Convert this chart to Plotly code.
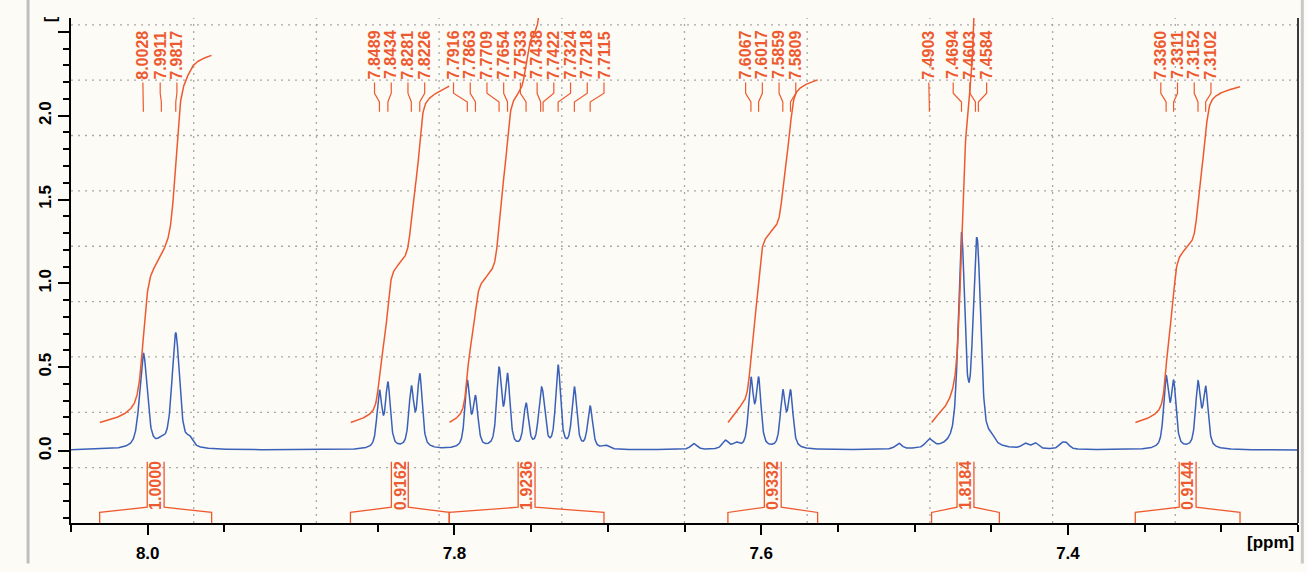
import numpy as np
import plotly.graph_objects as go

# ---------------- data ----------------
# labelled peaks (ppm), their heights and line widths (ppm)
peak_ppm = [8.0028, 7.9911, 7.9817,
            7.8489, 7.8434, 7.8281, 7.8226, 7.7916, 7.7863, 7.7709, 7.7654,
            7.7533, 7.7438, 7.7422, 7.7324, 7.7218, 7.7115,
            7.6067, 7.6017, 7.5859, 7.5809,
            7.4903, 7.4694, 7.4603, 7.4584,
            7.3360, 7.3311, 7.3152, 7.3102]
peak_height = [0.57, 0.03, 0.69,
               0.33, 0.38, 0.35, 0.43, 0.39, 0.29, 0.46, 0.42,
               0.26, 0.23, 0.18, 0.49, 0.36, 0.25,
               0.40, 0.40, 0.33, 0.33,
               0.05, 1.25, 0.70, 0.68,
               0.41, 0.38, 0.38, 0.35]
peak_width = [0.0058, 0.005, 0.0058,
              0.0038, 0.0038, 0.0038, 0.0038, 0.0038, 0.0038, 0.0038, 0.0038,
              0.0038, 0.0038, 0.0038, 0.0038, 0.0038, 0.0038,
              0.0038, 0.0038, 0.0038, 0.0038,
              0.006, 0.005, 0.005, 0.005,
              0.0038, 0.0038, 0.0038, 0.0038]

# small unlabelled signals
minor_ppm = [7.9727, 7.7014, 7.6439, 7.6233, 7.6165, 7.5104, 7.4499,
             7.4280, 7.4214, 7.4040, 7.4010]
minor_height = [0.045, 0.02, 0.035, 0.05, 0.03, 0.035, 0.04,
                0.03, 0.035, 0.03, 0.03]
minor_width = [0.005] * len(minor_ppm)

baseline = 0.005

# integral regions (ppm) and their values
integral_start = [8.0313, 7.8678, 7.8034, 7.6217, 7.4889, 7.3561]
integral_end = [7.9583, 7.8034, 7.7025, 7.5632, 7.4447, 7.2878]
integral_value = [1.0000, 0.9162, 1.9236, 0.9332, 1.8184, 0.9144]

# axis ticks
x_tickvals = [8.0, 7.8, 7.6, 7.4]
x_ticktext = ["8.0", "7.8", "7.6", "7.4"]
y_tickvals = [0.0, 0.5, 1.0, 1.5, 2.0, 2.5]
y_ticktext = ["0.0", "0.5", "1.0", "1.5", "2.0", ""]

# ---------------- styles ----------------
BLUE = "#3A60B8"
ORANGE = "#EE5A2F"
BG = "#FCFBF6"
FONT = "Liberation Sans"
X_RANGE = [8.05, 7.25]
Y_RANGE = [-0.43, 2.583]

# ---------------- spectrum ----------------
ppm = np.linspace(X_RANGE[0], X_RANGE[1], 4001)


def pseudo_voigt(x, c, h, w, eta=0.6):
    dx = (x - c) / w
    lor = 1.0 / (1.0 + 4.0 * dx * dx)
    gau = np.exp(-4.0 * np.log(2.0) * dx * dx)
    return h * (eta * lor + (1 - eta) * gau)


spec = np.full_like(ppm, baseline)
for c, h, w in zip(peak_ppm + minor_ppm, peak_height + minor_height,
                   peak_width + minor_width):
    spec += pseudo_voigt(ppm, c, h, w)

fig = go.Figure()
fig.add_trace(go.Scatter(x=ppm, y=spec, mode="lines",
                         line=dict(color=BLUE, width=1.5),
                         hoverinfo="skip", showlegend=False))

# ---------------- integral curves ----------------
INT_SCALE = 2.19
INT_OFFSET = 0.17
for s, e, v in zip(integral_start, integral_end, integral_value):
    m = (ppm <= s) & (ppm >= e)
    seg_x = ppm[m]
    cum = np.cumsum(spec[m])
    cum = (cum - cum[0]) / (cum[-1] - cum[0])
    seg_y = INT_OFFSET + INT_SCALE * v * cum
    fig.add_trace(go.Scatter(x=seg_x, y=seg_y, mode="lines",
                             line=dict(color=ORANGE, width=1.5),
                             hoverinfo="skip", showlegend=False))

# integral brackets below the baseline
bx, by = [], []
half_box = 0.0055
yb, y1, y2, y3 = Y_RANGE[0], -0.367, -0.336, -0.064
for s, e in zip(integral_start, integral_end):
    mid = (s + e) / 2
    bx += [s, s, mid + half_box, mid + half_box, None,
           mid - half_box, mid - half_box, e, e, None]
    by += [yb, y1, y2, y3, None, y3, y2, y1, yb, None]
fig.add_trace(go.Scatter(x=bx, y=by, mode="lines",
                         line=dict(color=ORANGE, width=1.3),
                         hoverinfo="skip", showlegend=False, cliponaxis=False))

LABEL_FONT = dict(family=FONT, size=16, color=ORANGE, weight="bold")
annotations = []
for s, e, v in zip(integral_start, integral_end, integral_value):
    annotations.append(dict(x=(s + e) / 2, y=-0.205, xref="x", yref="y",
                            text=f"{v:.4f}", textangle=-90, showarrow=False,
                            xanchor="center", yanchor="middle",
                            font=LABEL_FONT))

# ---------------- peak labels ----------------
gap = 0.0109
u = [-p for p in peak_ppm]
fw = []
for i, val in enumerate(u):
    fw.append(val if i == 0 else max(val, fw[-1] + gap))
bwd = [0.0] * len(u)
bwd[-1] = u[-1]
for i in range(len(u) - 2, -1, -1):
    bwd[i] = min(u[i], bwd[i + 1] - gap)
slots = [-(a + b) / 2 for a, b in zip(fw, bwd)]

cx, cy = [], []
for p, sl in zip(peak_ppm, slots):
    cx += [sl, sl, p, p, None]
    cy += [2.198, 2.134, 2.082, 2.023, None]
fig.add_trace(go.Scatter(x=cx, y=cy, mode="lines",
                         line=dict(color=ORANGE, width=1.2),
                         hoverinfo="skip", showlegend=False))

for p, sl in zip(peak_ppm, slots):
    annotations.append(dict(x=sl, y=2.205, xref="x", yref="y",
                            text=f"{p:.4f}", textangle=-90, showarrow=False,
                            xanchor="center", yanchor="bottom",
                            font=LABEL_FONT))

annotations.append(dict(x=0.998, y=-0.039, xref="paper", yref="paper",
                        text="[ppm]", showarrow=False, xanchor="right",
                        yanchor="middle",
                        font=dict(family=FONT, size=17, color="black",
                                  weight="bold")))
annotations.append(dict(x=-0.017, y=0.988, xref="paper", yref="paper",
                        text="[", textangle=-90, showarrow=False,
                        xanchor="center", yanchor="bottom",
                        font=dict(family=FONT, size=16, color="black",
                                  weight="bold")))

# ---------------- grid & frame shapes ----------------
shapes = []
GRID = dict(color="#A8A8A8", width=1.3, dash="2px,5px")
for k in range(1, 10):
    shapes.append(dict(type="line", xref="paper", yref="paper",
                       x0=k / 10, x1=k / 10, y0=0, y1=1, line=GRID,
                       layer="below"))
    yk = k * 56.67 / 517
    shapes.append(dict(type="line", xref="paper", yref="paper",
                       x0=0, x1=1, y0=yk, y1=yk, line=GRID, layer="below"))
shapes.append(dict(type="line", xref="paper", yref="paper", x0=1, x1=1,
                   y0=0, y1=1, line=dict(color="#3A3A3A", width=2)))
shapes.append(dict(type="line", xref="paper", yref="paper", x0=1.0035,
                   x1=1.0035, y0=-0.08, y1=1.04,
                   line=dict(color="#C8C8C8", width=3)))
shapes.append(dict(type="line", xref="paper", yref="paper", x0=-0.035,
                   x1=-0.035, y0=-0.08, y1=1.04,
                   line=dict(color="#BEBEBE", width=3)))

tickfont = dict(family=FONT, size=17, color="black", weight="bold")
fig.update_layout(
    width=1307, height=572,
    margin=dict(l=71, r=9, t=18, b=37),
    paper_bgcolor=BG, plot_bgcolor=BG,
    showlegend=False,
    annotations=annotations,
    shapes=shapes,
    xaxis=dict(range=X_RANGE, showgrid=False, zeroline=False,
               showline=True, linecolor="black", linewidth=2,
               ticks="outside", ticklen=10, tickwidth=2, tickcolor="black",
               tickmode="array", tickvals=x_tickvals, ticktext=x_ticktext,
               tickfont=tickfont, ticklabelstandoff=4,
               minor=dict(tickmode="linear", tick0=0, dtick=0.05,
                          ticks="outside", ticklen=7, tickwidth=2,
                          tickcolor="black", showgrid=False)),
    yaxis=dict(range=Y_RANGE, showgrid=False, zeroline=False,
               showline=True, linecolor="black", linewidth=2,
               ticks="outside", ticklen=11, tickwidth=2, tickcolor="black",
               tickmode="array", tickvals=y_tickvals, ticktext=y_ticktext,
               tickangle=-90, tickfont=tickfont,
               minor=dict(tickmode="linear", tick0=0, dtick=0.1,
                          ticks="outside", ticklen=6, tickwidth=2,
                          tickcolor="black", showgrid=False)),
)

fig.write_html(
    "out.html",
    config={"displayModeBar": False},
    post_script="document.body.style.margin='0px';"
                "document.body.style.backgroundColor='#FCFBF6';",
)
